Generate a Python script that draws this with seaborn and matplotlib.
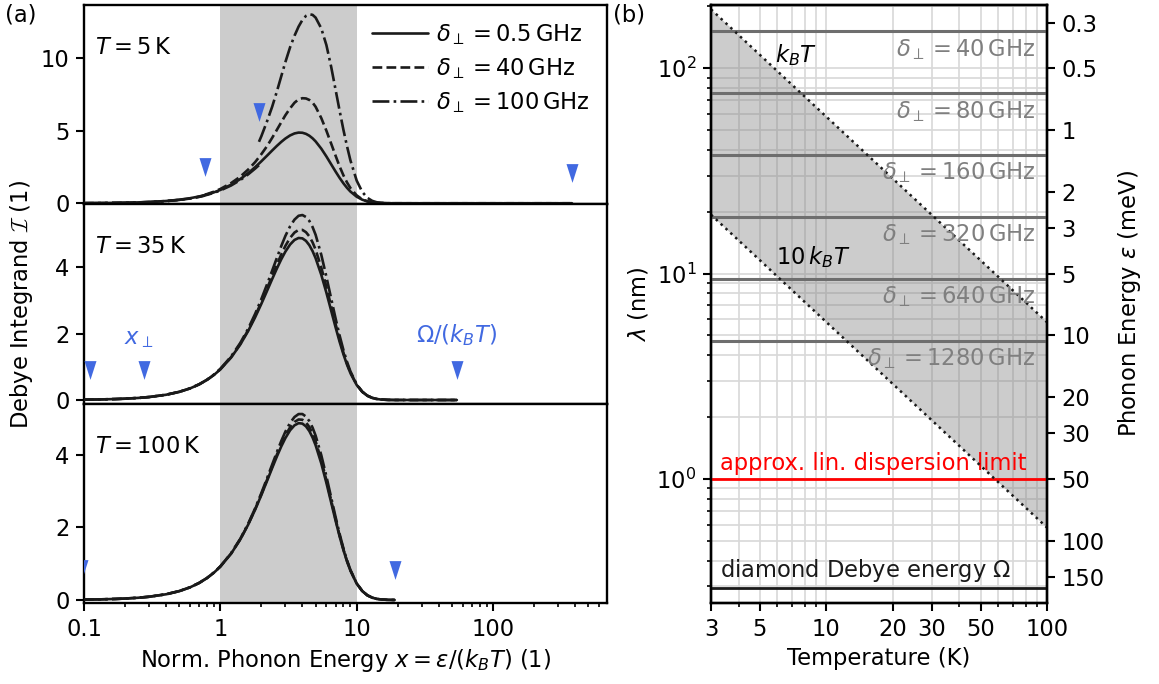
import matplotlib
matplotlib.use("Agg")
import matplotlib.pyplot as plt
from matplotlib.lines import Line2D
from matplotlib.ticker import FixedLocator, FixedFormatter, NullLocator, NullFormatter, LogLocator
import seaborn as sns

# ---------------- data ----------------
# panel (a): normalised phonon energy grid and Debye integrands
x_grid = [0.1, 0.13, 0.17, 0.2, 0.25, 0.3, 0.4, 0.5, 0.6, 0.7, 0.8, 0.9, 1.0, 1.2, 1.4, 1.6,
          1.8, 2.0, 2.2, 2.4, 2.6, 2.8, 3.0, 3.25, 3.5, 3.75, 4.0, 4.25, 4.5, 4.75, 5.0, 5.5,
          6.0, 6.5, 7.0, 7.5, 8.0, 8.5, 9.0, 10, 11, 12, 13, 14, 15, 17]
solid_vals = [0.0100, 0.0169, 0.0288, 0.0399, 0.0622, 0.0893, 0.1579, 0.2449, 0.3494, 0.4705,
              0.6069, 0.7575, 0.9207, 1.2790, 1.6689, 2.0772, 2.4906, 2.8963, 3.2828, 3.6404,
              3.9606, 4.2374, 4.4664, 4.6818, 4.8181, 4.8775, 4.8654, 4.7893, 4.6583, 4.4814,
              4.2686, 3.7705, 3.2285, 2.6919, 2.1934, 1.7519, 1.3750, 1.0626, 0.8099, 0.4540,
              0.2445, 0.1274, 0.0646, 0.0319, 0.0155, 0.0035]

tail_5K_x = [19, 25, 40, 80, 150, 250, 380]
tail_5K_y = [0.0007, 0, 0, 0, 0, 0, 0]
tail_35K_x = [19, 25, 35, 54.3]
tail_35K_y = [0.0007, 0, 0, 0]
tail_100K_x = [19.0]
tail_100K_y = [0.0007]

# T = 5 K, delta = 40 GHz (dashed): below / above x_perp
dash5_lo_x = [0.1, 0.13, 0.17, 0.2, 0.25, 0.3, 0.4, 0.5, 0.6, 0.7, 0.77]
dash5_lo_y = [0.0094, 0.0159, 0.0271, 0.0375, 0.0585, 0.0839, 0.1484, 0.2302, 0.3284, 0.4423, 0.5307]
dash5_hi_x = [0.77, 0.8, 0.9, 1.0, 1.2, 1.4, 1.6, 1.8, 2.0, 2.2, 2.4, 2.6, 2.8, 3.0, 3.25, 3.5,
              3.75, 4.0, 4.25, 4.5, 4.75, 5.0, 5.5, 6.0, 6.5, 7.0, 7.5, 8.0, 8.5, 9.0, 10, 11,
              12, 13, 14, 15, 17]
dash5_hi_y = [0.593, 0.637, 0.803, 0.985, 1.394, 1.836, 2.326, 2.839, 3.389, 3.939, 4.514, 5.070,
              5.593, 6.074, 6.555, 6.938, 7.170, 7.249, 7.232, 7.127, 6.946, 6.659, 5.882, 5.004,
              4.119, 3.290, 2.540, 1.925, 1.435, 1.053, 0.545, 0.269, 0.134, 0.065, 0.032, 0.015,
              0.0035]
# T = 5 K, delta = 100 GHz (dash-dot)
dd5_lo_x = [0.1, 0.13, 0.17, 0.2, 0.25, 0.3, 0.4, 0.5, 0.6, 0.7, 0.8, 0.9, 1.0, 1.2, 1.4, 1.6, 1.8, 1.92]
dd5_lo_y = [0.0096, 0.0162, 0.0276, 0.0383, 0.0597, 0.0857, 0.1516, 0.2351, 0.3354, 0.4517,
            0.5826, 0.7272, 0.8839, 1.2278, 1.6021, 1.9941, 2.3910, 2.626]
dd5_hi_x = [1.92, 2.0, 2.2, 2.4, 2.6, 2.8, 3.0, 3.25, 3.5, 3.75, 4.0, 4.25, 4.5, 4.75, 5.0, 5.5,
            6.0, 6.5, 7.0, 7.5, 8.0, 8.5, 9.0, 10, 11, 12, 13, 14, 15, 17]
dd5_hi_y = [4.24, 4.63, 5.65, 6.66, 7.72, 8.77, 9.74, 10.77, 11.56, 12.19, 12.65, 12.93, 13.04,
            13.00, 12.81, 12.07, 10.91, 9.42, 7.85, 6.38, 5.06, 3.93, 2.96, 1.57, 0.78, 0.37,
            0.168, 0.073, 0.031, 0.006]
# T = 35 K (on x_grid)
dash35_y = [0.0100, 0.0169, 0.0288, 0.0399, 0.0623, 0.0894, 0.1582, 0.2455, 0.3504, 0.4722,
            0.6098, 0.7620, 0.9276, 1.2905, 1.6864, 2.1021, 2.5280, 2.9484, 3.3537, 3.7321,
            4.0770, 4.3823, 4.6379, 4.8812, 5.0407, 5.1204, 5.1208, 5.0508, 4.9238, 4.7449,
            4.5247, 3.9899, 3.4028, 2.8243, 2.2908, 1.8202, 1.4212, 1.0932, 0.8293, 0.4614,
            0.2467, 0.1279, 0.0646, 0.0319, 0.0155, 0.0035]
dd35_y = [0.0100, 0.0169, 0.0289, 0.0400, 0.0624, 0.0896, 0.1587, 0.2465, 0.3523, 0.4752,
          0.6149, 0.7700, 0.9397, 1.3107, 1.7171, 2.1457, 2.5934, 3.0397, 3.4778, 3.8927,
          4.2810, 4.6361, 4.9381, 5.2305, 5.4305, 5.5457, 5.5679, 5.5086, 5.3887, 5.2060,
          4.9729, 4.3738, 3.7079, 3.0561, 2.4612, 1.9399, 1.5021, 1.1468, 0.8634, 0.4742,
          0.2506, 0.1289, 0.0646, 0.0319, 0.0155, 0.0035]
# T = 100 K (on x_grid)
dash100_y = [0.0100, 0.0169, 0.0288, 0.0399, 0.0622, 0.0893, 0.1580, 0.2451, 0.3498, 0.4712,
             0.6081, 0.7594, 0.9236, 1.2839, 1.6762, 2.0876, 2.5063, 2.9180, 3.3123, 3.6786,
             4.0093, 4.2980, 4.5379, 4.7651, 4.9111, 4.9789, 4.9720, 4.8985, 4.7692, 4.5912,
             4.3753, 3.8621, 3.3011, 2.7471, 2.2340, 1.7805, 1.3943, 1.0754, 0.8180, 0.4571,
             0.2452, 0.1276, 0.0646, 0.0319, 0.0155, 0.0035]
dd100_y = [0.0100, 0.0169, 0.0288, 0.0399, 0.0622, 0.0894, 0.1582, 0.2455, 0.3505, 0.4722,
           0.6099, 0.7622, 0.9279, 1.2909, 1.6871, 2.1030, 2.5292, 2.9502, 3.3560, 3.7351,
           4.0810, 4.3870, 4.6437, 4.8878, 5.0479, 5.1287, 5.1296, 5.0594, 4.9327, 4.7539,
           4.5333, 3.9971, 3.4086, 2.8287, 2.2941, 1.8225, 1.4227, 1.0943, 0.8300, 0.4616,
           0.2468, 0.1279, 0.0646, 0.0319, 0.0155, 0.0035]

# blue markers (x_perp and Omega/(k_B T))
mk5_x, mk5_y = [0.77, 1.92, 380], [2.52, 6.32, 2.07]
mk35_x, mk35_y = [0.11, 0.274, 54.3], [0.9, 0.9, 0.9]
mk100_x, mk100_y = [0.038, 0.096, 19.0], [0.85, 0.85, 0.83]

panel_T = ["5", "35", "100"]
legend_labels = ["0.5", "40", "100"]

# panel (b)
T_range = [3, 100]
lam_kBT = [193.4, 5.80]
lam_10kBT = [19.34, 0.580]
delta_GHz = [40, 80, 160, 320, 640, 1280]
lam_delta = [151.1, 75.6, 37.8, 18.9, 9.44, 4.72]
lam_lin_limit = 1.0
lam_debye = 0.296
eps_ticks = [0.3, 0.5, 1, 2, 3, 5, 10, 20, 30, 50, 100, 150]
eps_times_lam = 50.0  # meV nm, energy <-> wavelength conversion of the right axis

# ---------------- style ----------------
sns.set_theme(style="ticks")
FS = 16.3
plt.rcParams.update({
    "font.family": ["DejaVu Sans"],
    "font.size": FS,
    "mathtext.fontset": "custom",
    "mathtext.rm": "DejaVu Sans",
    "mathtext.it": "DejaVu Sans:italic",
    "mathtext.bf": "DejaVu Sans:bold",
    "mathtext.cal": "cmsy10",
    "text.color": "black",
    "axes.labelcolor": "black",
    "axes.edgecolor": "black",
    "axes.linewidth": 1.7,
    "xtick.color": "black",
    "ytick.color": "black",
    "xtick.labelsize": FS,
    "ytick.labelsize": FS,
    "axes.labelsize": FS,
    "xtick.direction": "out",
    "ytick.direction": "out",
    "xtick.major.size": 5.5,
    "ytick.major.size": 5.5,
    "xtick.minor.size": 3.2,
    "ytick.minor.size": 3.2,
    "xtick.major.width": 1.5,
    "ytick.major.width": 1.5,
    "xtick.minor.width": 1.2,
    "ytick.minor.width": 1.2,
    "xtick.major.pad": 5.5,
    "ytick.major.pad": 5.0,
})

BLUE = "#4169E1"
W, H = 1159, 684
fig = plt.figure(figsize=(W / 100, H / 100), dpi=100)

tops = [5, 204, 403.5]
bots = [204, 403.5, 603]
ylims = [(-0.05, 13.68), (-0.105, 5.90), (-0.083, 5.42)]
yticks = [[0, 5, 10], [0, 2, 4], [0, 2, 4]]
LW = 1.9

axes_a = []
for i in range(3):
    ax = fig.add_axes([84 / W, (H - bots[i]) / H, 523 / W, (bots[i] - tops[i]) / H])
    axes_a.append(ax)
    ax.set_xscale("log")
    ax.axvspan(1, 10, color="#cccccc", lw=0, zorder=0)

tails = [(tail_5K_x, tail_5K_y), (tail_35K_x, tail_35K_y), (tail_100K_x, tail_100K_y)]
for i, ax in enumerate(axes_a):
    tx, ty = tails[i]
    sns.lineplot(x=x_grid + tx, y=solid_vals + ty, ax=ax, color="k", linewidth=LW,
                 sort=False, estimator=None, zorder=5)

ax = axes_a[0]
tx, ty = tails[0]
sns.lineplot(x=dash5_lo_x, y=dash5_lo_y, ax=ax, color="k", linewidth=LW, linestyle="--",
             sort=False, estimator=None, zorder=4)
sns.lineplot(x=dash5_hi_x + tx, y=dash5_hi_y + ty, ax=ax, color="k", linewidth=LW, linestyle="--",
             sort=False, estimator=None, zorder=4)
sns.lineplot(x=dd5_lo_x, y=dd5_lo_y, ax=ax, color="k", linewidth=LW, linestyle="-.",
             sort=False, estimator=None, zorder=4)
sns.lineplot(x=dd5_hi_x + tx, y=dd5_hi_y + ty, ax=ax, color="k", linewidth=LW, linestyle="-.",
             sort=False, estimator=None, zorder=4)

for ax, (tx, ty), dsh, ddt in [(axes_a[1], tails[1], dash35_y, dd35_y),
                               (axes_a[2], tails[2], dash100_y, dd100_y)]:
    sns.lineplot(x=x_grid + tx, y=dsh + ty, ax=ax, color="k", linewidth=LW, linestyle="--",
                 sort=False, estimator=None, zorder=4)
    sns.lineplot(x=x_grid + tx, y=ddt + ty, ax=ax, color="k", linewidth=LW, linestyle="-.",
                 sort=False, estimator=None, zorder=4)

# markers
tri = [(-0.32, 0.5), (0.32, 0.5), (0.0, -0.5), (-0.32, 0.5)]
for ax, mx, my in zip(axes_a, [mk5_x, mk35_x, mk100_x], [mk5_y, mk35_y, mk100_y]):
    ax.plot(mx, my, linestyle="none", marker=tri, markersize=13.5, color=BLUE,
            markeredgewidth=0, zorder=6)

for i, ax in enumerate(axes_a):
    ax.set_xlim(0.1, 686)
    ax.set_ylim(*ylims[i])
    ax.set_yticks(yticks[i])
    ax.set_yticklabels([str(v) for v in yticks[i]])
    ax.text(0.021, 0.785, r"$T = %s\,\mathrm{K}$" % panel_T[i], transform=ax.transAxes,
            ha="left", va="center", fontsize=FS)
    if i < 2:
        ax.tick_params(axis="x", which="both", bottom=False, labelbottom=False)
    else:
        ax.xaxis.set_major_locator(FixedLocator([0.1, 1, 10, 100]))
        ax.xaxis.set_major_formatter(FixedFormatter(["0.1", "1", "10", "100"]))
        ax.xaxis.set_minor_locator(LogLocator(base=10, subs=[2, 3, 4, 5, 6, 7, 8, 9]))
        ax.xaxis.set_minor_formatter(NullFormatter())
        ax.set_xlabel(r"Norm. Phonon Energy $x = \epsilon/(k_BT)$ (1)", labelpad=4)

handles = [Line2D([], [], color="k", lw=LW, ls=s) for s in ["-", "--", "-."]]
labels = [r"$\delta_\perp = %s\,\mathrm{GHz}$" % v for v in legend_labels]
axes_a[0].legend(handles, labels, loc="upper right", bbox_to_anchor=(1.0, 1.0), frameon=False,
                 handlelength=2.5, handletextpad=0.35, labelspacing=0.4, borderaxespad=0.35,
                 fontsize=FS)

axes_a[1].text(0.25, 1.85, r"$x_\perp$", color=BLUE, ha="center", va="center", fontsize=FS)
axes_a[1].text(54, 1.95, r"$\Omega/(k_BT)$", color=BLUE, ha="center", va="center", fontsize=FS)

fig.text(22 / W, 1 - 304 / H, r"Debye Integrand $\mathcal{I}$ (1)", rotation=90,
         ha="center", va="center", fontsize=FS)
fig.text(5 / W, 1 - 15 / H, "(a)", ha="left", va="center", fontsize=FS)
fig.text(613 / W, 1 - 15 / H, "(b)", ha="left", va="center", fontsize=FS)

# ---------------- panel (b) ----------------
axb = fig.add_axes([711 / W, (H - 603) / H, 336 / W, 598 / H])
axb.set_xscale("log")
axb.set_yscale("log")
axb.set_axisbelow(True)
axb.grid(True, which="both", color="#d8d8d8", lw=1.2)

axb.fill_between(T_range, lam_10kBT, lam_kBT, color="#808080", alpha=0.4, lw=0, zorder=1)
sns.lineplot(x=T_range, y=lam_kBT, ax=axb, color="k", linewidth=1.8, linestyle=":",
             sort=False, estimator=None, zorder=4)
sns.lineplot(x=T_range, y=lam_10kBT, ax=axb, color="k", linewidth=1.8, linestyle=":",
             sort=False, estimator=None, zorder=4)
for d, lam in zip(delta_GHz, lam_delta):
    axb.axhline(lam, color="#6e6e6e", lw=2.2, zorder=3)
    axb.annotate(r"$\delta_\perp = %d\,\mathrm{GHz}$" % d, xy=(0.965, lam),
                 xycoords=("axes fraction", "data"), xytext=(0, -4), textcoords="offset points",
                 ha="right", va="top", color="#7f7f7f", fontsize=FS, zorder=5)
axb.axhline(lam_lin_limit, color="red", lw=2.0, zorder=3)
axb.axhline(lam_debye, color="k", lw=2.0, zorder=3)
axb.annotate("approx. lin. dispersion limit", xy=(0.027, lam_lin_limit),
             xycoords=("axes fraction", "data"), xytext=(0, 3), textcoords="offset points",
             ha="left", va="bottom", color="red", fontsize=FS)
axb.annotate(r"diamond Debye energy $\Omega$", xy=(0.027, lam_debye),
             xycoords=("axes fraction", "data"), xytext=(0, 2.5), textcoords="offset points",
             ha="left", va="bottom", color="k", fontsize=FS)
axb.text(7.3, 116, r"$k_BT$", ha="center", va="center", fontsize=FS, zorder=5)
axb.text(5.94, 12.0, r"$10\,k_BT$", ha="left", va="center", fontsize=FS, zorder=5)

axb.set_xlim(3, 100)
axb.set_ylim(0.249, 203)
axb.xaxis.set_major_locator(FixedLocator([3, 5, 10, 20, 30, 50, 100]))
axb.xaxis.set_major_formatter(FixedFormatter(["3", "5", "10", "20", "30", "50", "100"]))
axb.xaxis.set_minor_locator(FixedLocator([4, 6, 7, 8, 9, 40, 60, 70, 80, 90]))
axb.xaxis.set_minor_formatter(NullFormatter())
axb.yaxis.set_major_locator(LogLocator(base=10))
axb.yaxis.set_minor_locator(LogLocator(base=10, subs=[2, 3, 4, 5, 6, 7, 8, 9]))
axb.yaxis.set_minor_formatter(NullFormatter())
axb.set_xlabel("Temperature (K)", labelpad=4)
axb.set_ylabel(r"$\lambda$ (nm)", labelpad=4)

ax2 = axb.twinx()
ax2.set_yscale("log")
ax2.set_ylim(axb.get_ylim())
ax2.yaxis.set_major_locator(FixedLocator([eps_times_lam / e for e in eps_ticks]))
ax2.yaxis.set_major_formatter(FixedFormatter([("%g" % e) for e in eps_ticks]))
ax2.yaxis.set_minor_locator(NullLocator())
ax2.grid(False)
ax2.set_ylabel(r"Phonon Energy $\epsilon$ (meV)", labelpad=8)

fig.savefig("out.png", dpi=100)
